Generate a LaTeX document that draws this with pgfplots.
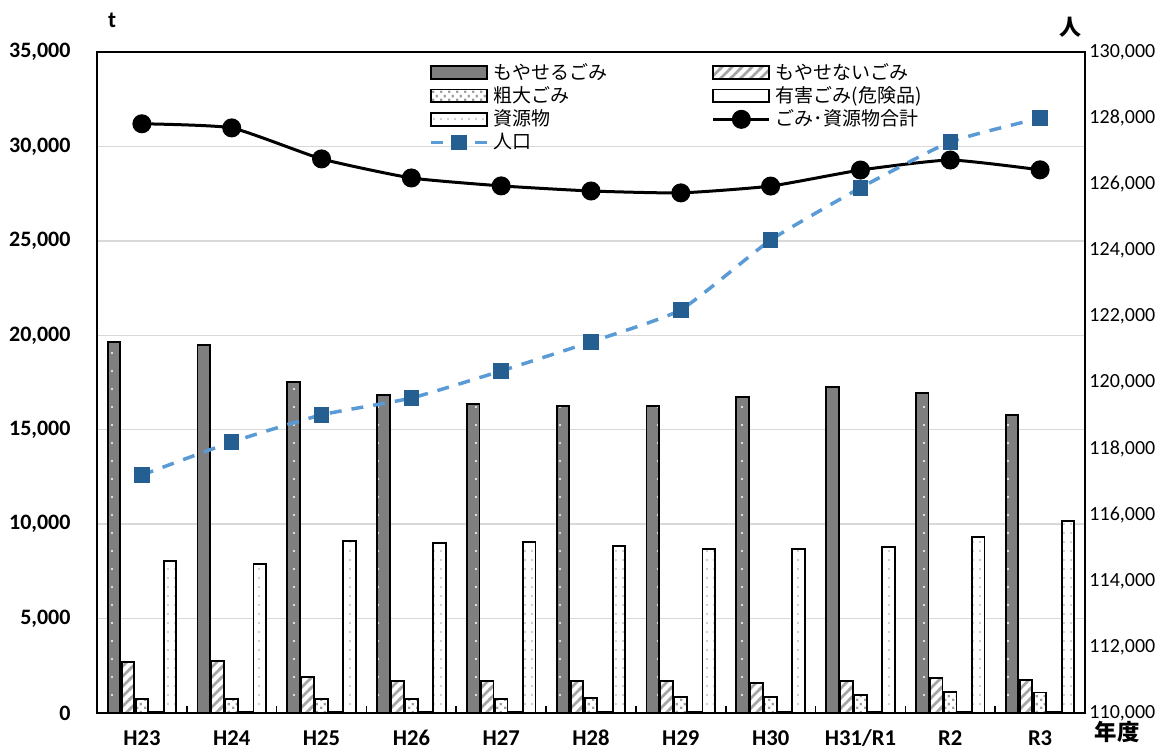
\documentclass[border=0pt]{standalone}
\usepackage{pgfplots}
\usepackage{pgfplotstable}
\pgfplotsset{compat=1.18}
\usepackage{fontspec}
\setmainfont{Carlito}
\newfontfamily\jp{Noto Sans CJK JP}
\usetikzlibrary{patterns}

\definecolor{darkbar}{HTML}{7F7F7F}
\definecolor{hatchgray}{HTML}{A6A6A6}
\definecolor{dotgray}{HTML}{A0A0A0}
\definecolor{gridgray}{HTML}{D9D9D9}
\definecolor{popline}{HTML}{5B9BD5}
\definecolor{popmark}{HTML}{255E91}

\pgfdeclarepatternformonly{wdots}{\pgfqpoint{-1pt}{-1pt}}{\pgfqpoint{1pt}{1pt}}{\pgfqpoint{7pt}{9pt}}{%
  \pgfpathcircle{\pgfqpoint{0pt}{0pt}}{0.6pt}\pgfusepath{fill}}
\pgfdeclarepatternformonly{thickne}{\pgfqpoint{-1pt}{-1pt}}{\pgfqpoint{6pt}{6pt}}{\pgfqpoint{5pt}{5pt}}{%
  \pgfsetlinewidth{1.3pt}\pgfpathmoveto{\pgfqpoint{-1pt}{-1pt}}\pgfpathlineto{\pgfqpoint{6pt}{6pt}}\pgfusepath{stroke}}
\pgfdeclarepatternformonly{sqdots}{\pgfqpoint{0pt}{0pt}}{\pgfqpoint{4pt}{4pt}}{\pgfqpoint{4pt}{4pt}}{%
  \pgfpathrectangle{\pgfqpoint{0pt}{0pt}}{\pgfqpoint{1.3pt}{1.3pt}}%
  \pgfpathrectangle{\pgfqpoint{2pt}{2pt}}{\pgfqpoint{1.3pt}{1.3pt}}\pgfusepath{fill}}
\pgfdeclarepatternformonly{finedots}{\pgfqpoint{-1pt}{-1pt}}{\pgfqpoint{1pt}{1pt}}{\pgfqpoint{3.5pt}{4.5pt}}{%
  \pgfpathcircle{\pgfqpoint{0pt}{0pt}}{0.45pt}\pgfusepath{fill}}

\pgfplotstableread{
x moyaseru funen sodai yugai shigen total
0  19650 2720 760  50 8050  31200
1  19490 2750 760  50 7890  30980
2  17530 1920 760  50 9110  29340
3  16840 1710 760  50 9000  28330
4  16360 1710 760  50 9050  27910
5  16260 1710 810  50 8840  27640
6  16260 1710 860  50 8680  27540
7  16730 1600 860  50 8680  27900
8  17260 1710 950  50 8790  28750
9  16940 1870 1130 50 9320  29280
10 15780 1730 1080 50 10170 28760
}\wastedata

\pgfplotstableread{
x pop
0  117200
1  118200
2  119020
3  119530
4  120350
5  121230
6  122200
7  124310
8  125890
9  127280
10 128000
}\popdata

\pgfplotsset{
  barleg/.style={legend image code/.code={\draw[##1] (0pt,-3.2pt) rectangle (28pt,3.2pt);}},
  lineleg/.style={legend image code/.code={\draw[mark repeat=2,mark phase=2,##1] plot coordinates {(0pt,0pt) (14pt,0pt) (28pt,0pt)};}},
  mybar/.style={ybar, bar width=6.25pt, draw=black, line width=0.9pt, barleg},
}

\begin{document}
\begin{tikzpicture}
\useasboundingbox (0,0) rectangle (578.5pt,374.5pt);
\begin{axis}[
  at={(48.5pt,18pt)}, anchor=south west,
  scale only axis, width=494pt, height=330.5pt,
  xmin=-0.5, xmax=10.5, ymin=0, ymax=35000,
  xtick={0,...,10},
  xticklabels={H23,H24,H25,H26,H27,H28,H29,H30,H31/R1,R2,R3},
  minor x tick num=1,
  major tick length=0pt, minor tick length=3.5pt,
  tick align=inside,
  xtick pos=bottom, ytick pos=left,
  ytick={0,5000,10000,15000,20000,25000,30000,35000},
  yticklabels={0,{5,000},{10,000},{15,000},{20,000},{25,000},{30,000},{35,000}},
  ymajorgrids, grid style={gridgray, line width=0.75pt},
  minor x tick style={black, line width=0.8pt},
  axis line style={black, line width=0.9pt},
  scaled y ticks=false,
  yticklabel style={font=\bfseries\fontsize{11}{13}\selectfont, anchor=east, xshift=-9.7pt},
  xticklabel style={font=\bfseries\fontsize{11.3}{13}\selectfont, anchor=base, yshift=-16.3pt},
  legend columns=2,
  legend cell align=left,
  legend style={draw=none, fill=none, at={(0.336,0.99)}, anchor=north west,
    font=\jp\fontsize{9.5}{11}\selectfont, inner sep=0pt, row sep=-1.8pt,
    /tikz/every even column/.append style={column sep=50pt},
    /tikz/every odd column/.append style={column sep=0.5pt}},
  clip=false,
]
\addplot[mybar, bar shift=-14pt, fill=darkbar, postaction={pattern=wdots, pattern color=white}] table[x=x,y=moyaseru] {\wastedata};
\addlegendentry{もやせるごみ}
\addplot[mybar, bar shift=-7pt, fill=white, postaction={pattern=thickne, pattern color=hatchgray}] table[x=x,y=funen] {\wastedata};
\addlegendentry{もやせないごみ}
\addplot[mybar, bar shift=0pt, fill=white, postaction={pattern=sqdots, pattern color=dotgray}] table[x=x,y=sodai] {\wastedata};
\addlegendentry{粗大ごみ}
\addplot[mybar, bar shift=7pt, fill=white] table[x=x,y=yugai] {\wastedata};
\addlegendentry{有害ごみ(危険品)}
\addplot[mybar, bar shift=14pt, fill=white, postaction={pattern=finedots, pattern color=dotgray}] table[x=x,y=shigen] {\wastedata};
\addlegendentry{資源物}
\addplot[lineleg, black, line width=1.5pt, smooth, tension=0.3, mark=*, mark size=4pt] table[x=x,y=total] {\wastedata};
\addlegendentry{ごみ･資源物合計}
\addlegendimage{lineleg, popline, line width=1.75pt, dash pattern=on 6pt off 5pt, mark=square*, mark size=3pt, mark options={solid, fill=popmark, draw=popmark}}
\addlegendentry{人口}
\end{axis}
\begin{axis}[
  at={(48.5pt,18pt)}, anchor=south west,
  scale only axis, width=494pt, height=330.5pt,
  xmin=-0.5, xmax=10.5, ymin=110000, ymax=130000,
  axis x line=none, axis y line*=right,
  ytick={110000,112000,114000,116000,118000,120000,122000,124000,126000,128000,130000},
  yticklabels={{110,000},{112,000},{114,000},{116,000},{118,000},{120,000},{122,000},{124,000},{126,000},{128,000},{130,000}},
  major tick length=0pt,
  axis line style={black, line width=0.9pt},
  scaled y ticks=false,
  yticklabel style={font=\fontsize{10}{12}\selectfont, anchor=west, xshift=-1.3pt},
  clip=false,
]
\addplot[popline, line width=1.75pt, dash pattern=on 6pt off 5pt, smooth, tension=0.3, mark=square*, mark size=3pt, mark options={solid, fill=popmark, draw=popmark}] table[x=x,y=pop] {\popdata};
\end{axis}
\node[font=\bfseries\fontsize{11.5}{13}\selectfont] at (56pt,364.5pt) {t};
\node[font=\jp\bfseries\fontsize{11}{13}\selectfont] at (535pt,361pt) {人};
\node[font=\jp\bfseries\fontsize{11.2}{13}\selectfont] at (558.5pt,8.5pt) {年度};
\end{tikzpicture}
\end{document}
